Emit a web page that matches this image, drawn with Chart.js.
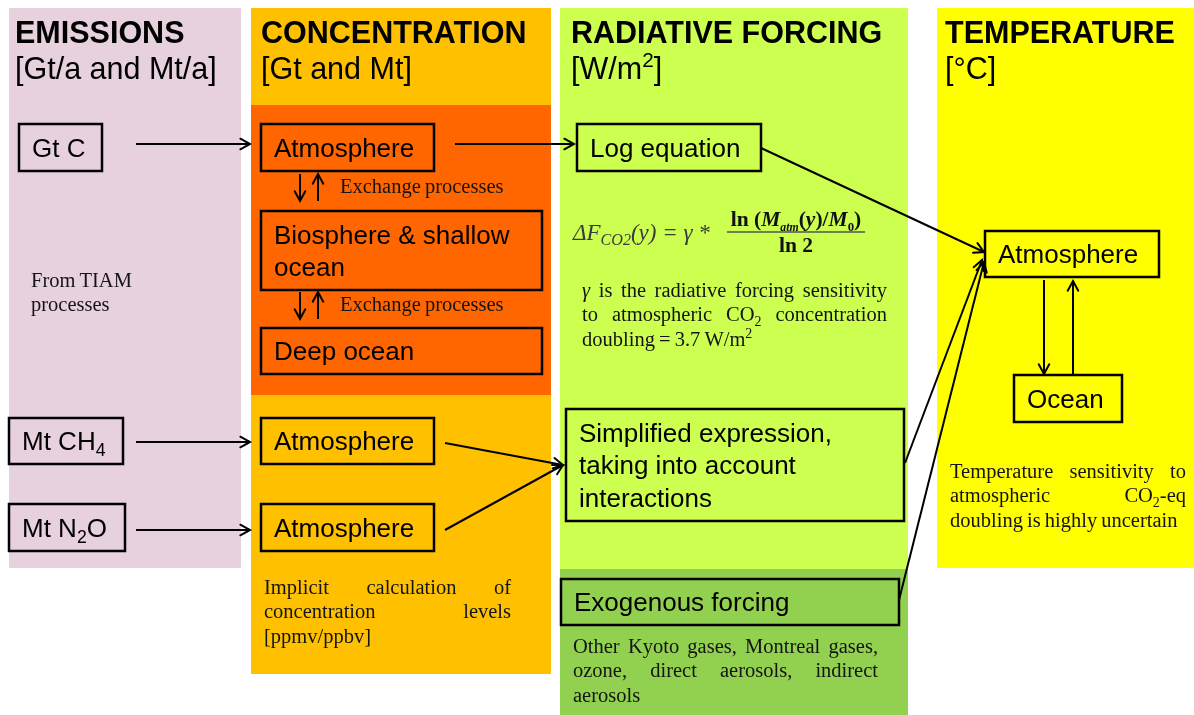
<!DOCTYPE html>
<html>
<head>
<meta charset="utf-8">
<script src="https://cdn.jsdelivr.net/npm/chart.js@4"></script>
<style>html,body{margin:0;padding:0;background:#fff}canvas{display:block}</style>
</head>
<body>
<canvas id="c" width="1194" height="715"></canvas>
<script>
// Diagram content, in chart units (x 0..1194, y 0..715 top-down)
// background panels: [left, top, right, bottom, colour]
const panels = [
    [9, 8, 241, 568, '#e8d1df'],
    [251, 8, 551, 674, '#ffc000'],
    [251, 105, 551, 395, '#ff6600'],
    [560, 8, 908, 569, '#ccff4f'],
    [560, 569, 908, 715, '#92d050'],
    [937, 8, 1194, 568, '#ffff00']
];
// column titles: [title, unit, x]
const headers = [
    ['EMISSIONS', '[Gt/a and Mt/a]', 15],
    ['CONCENTRATION', '[Gt and Mt]', 261],
    ['RADIATIVE FORCING', '[W/m^{2}]', 571],
    ['TEMPERATURE', '[°C]', 945]
];
// boxes: [left, top, right, bottom, text lines]
const boxes = [
    [19, 124, 102, 171, ['Gt C']],
    [9, 418, 123, 464, ['Mt CH_{4}']],
    [9, 504, 125, 551, ['Mt N_{2}O']],
    [261, 124, 434, 171, ['Atmosphere']],
    [261, 211, 542, 290, ['Biosphere & shallow', 'ocean']],
    [261, 328, 542, 374, ['Deep ocean']],
    [261, 418, 434, 464, ['Atmosphere']],
    [261, 504, 434, 551, ['Atmosphere']],
    [577, 124, 761, 171, ['Log equation']],
    [566, 409, 904, 521, ['Simplified expression,', 'taking into account', 'interactions']],
    [561, 579, 899, 625, ['Exogenous forcing']],
    [985, 231, 1159, 277, ['Atmosphere']],
    [1014, 375, 1122, 422, ['Ocean']]
];
// arrows: [x from, y from, x to, y to]
const arrows = [
    [136, 144, 250, 144],
    [455, 144, 574, 144],
    [761, 148, 984, 252],
    [136, 442, 250, 442],
    [136, 530, 250, 530],
    [445, 443, 563, 465],
    [445, 530, 563, 465],
    [905, 463, 982, 260],
    [899, 600, 984, 262],
    [1044, 280, 1044, 374],
    [1073, 375, 1073, 281],
    [300, 174, 300, 201],
    [318, 201, 318, 174],
    [300, 292, 300, 319],
    [318, 319, 318, 292]
];
// notes: [left, right, first baseline, lines, justify]
const notes = [
    [340, 504, 193, ['Exchange processes'], false],
    [340, 504, 311, ['Exchange processes'], false],
    [31, 200, 287, ['From TIAM', 'processes'], false],
    [582, 887, 297, ['*γ* is the radiative forcing sensitivity', 'to atmospheric CO_{2} concentration', 'doubling = 3.7 W/m^{2}'], true],
    [264, 511, 594, ['Implicit calculation of', 'concentration levels', '[ppmv/ppbv]'], true],
    [950, 1186, 478, ['Temperature sensitivity to', 'atmospheric CO_{2}-eq', 'doubling is highly uncertain'], true],
    [573, 878, 653, ['Other Kyoto gases, Montreal gases,', 'ozone, direct aerosols, indirect', 'aerosols'], true]
];

const SANS = '"Liberation Sans", Arial, sans-serif';
const SERIF = '"Liberation Serif", "Times New Roman", serif';

// turn "a_{b}c^{d}*e*" into segments
const parseRich = (str) => {
    const segs = [];
    let i = 0, italic = false, buf = '';
    const push = (t, s) => { if (t) segs.push({ t, f: italic ? 'italic' : '', s }); };
    while (i < str.length) {
        const c = str[i];
        if ((c === '_' || c === '^') && str[i + 1] === '{') {
            push(buf); buf = '';
            const end = str.indexOf('}', i);
            push(str.slice(i + 2, end), c === '_' ? 'sub' : 'sup');
            i = end + 1;
        } else if (c === '*') {
            push(buf); buf = '';
            italic = !italic;
            i++;
        } else {
            buf += c;
            i++;
        }
    }
    push(buf);
    return segs;
};

const segFont = (seg, size, family) => {
    const sz = seg.s ? size * (seg.k || 0.68) : size;
    return `${seg.f || ''} ${sz}px ${family}`.trim();
};

const measureSegs = (ctx, segs, size, family) => {
    let w = 0;
    segs.forEach(seg => { ctx.font = segFont(seg, size, family); w += ctx.measureText(seg.t).width; });
    return w;
};

const drawSegs = (ctx, segs, x, y, size, family) => {
    segs.forEach(seg => {
        ctx.font = segFont(seg, size, family);
        const dy = seg.s === 'sub' ? size * 0.22 : seg.s === 'sup' ? -size * 0.38 : 0;
        if (seg.c) ctx.fillStyle = seg.c;
        ctx.fillText(seg.t, x, y + dy);
        x += ctx.measureText(seg.t).width;
    });
    return x;
};

const diagramPlugin = {
    id: 'diagram',
    beforeDatasetsDraw(chart) {
        const ctx = chart.ctx;
        const X = v => chart.scales.x.getPixelForValue(v);
        const Y = v => chart.scales.y.getPixelForValue(v);
        ctx.save();
        ctx.textBaseline = 'alphabetic';

        panels.forEach(([x0, y0, x1, y1, col]) => {
            ctx.fillStyle = col;
            ctx.fillRect(X(x0), Y(y0), X(x1) - X(x0), Y(y1) - Y(y0));
        });

        ctx.fillStyle = '#000';
        headers.forEach(([title, unit, x]) => {
            ctx.font = `bold 30.5px ${SANS}`;
            ctx.fillText(title, X(x), Y(43));
            drawSegs(ctx, parseRich(unit), X(x), Y(79), 30.5, SANS);
        });

        ctx.strokeStyle = '#000';
        ctx.lineWidth = 2.5;
        boxes.forEach(([x0, y0, x1, y1, lines]) => {
            ctx.strokeRect(X(x0), Y(y0), X(x1) - X(x0), Y(y1) - Y(y0));
            const lh = 32.5;
            const mid = (Y(y0) + Y(y1)) / 2;
            lines.forEach((ln, k) => {
                const cy = mid + (k - (lines.length - 1) / 2) * lh;
                ctx.fillStyle = '#000';
                drawSegs(ctx, parseRich(ln), X(x0) + 13, cy + 9.3, 26, SANS);
            });
        });

        // justified notes in serif
        ctx.fillStyle = '#141414';
        const NS = 20.5;
        notes.forEach(([x0, x1, y, lines, justify]) => {
            lines.forEach((ln, k) => {
                const by = Y(y) + k * 24.3;
                const words = ln.split(' ').map(parseRich);
                const widths = words.map(w => measureSegs(ctx, w, NS, SERIF));
                const total = widths.reduce((a, b) => a + b, 0);
                const last = k === lines.length - 1;
                ctx.font = `${NS}px ${SERIF}`;
                let gap = ctx.measureText(' ').width * 0.8;
                if (justify && !last && words.length > 1) gap = (X(x1) - X(x0) - total) / (words.length - 1);
                let x = X(x0);
                words.forEach((w, i) => {
                    drawSegs(ctx, w, x, by, NS, SERIF);
                    x += widths[i] + gap;
                });
            });
        });

        // forcing formula
        ctx.fillStyle = '#3a3a3a';
        drawSegs(ctx, [
            { t: 'ΔF', f: 'italic' }, { t: 'CO2', f: 'italic', s: 'sub', k: 0.7 }, { t: '(y) = γ *', f: 'italic' }
        ], X(573), Y(240), 23, SERIF);
        const num = [
            { t: 'ln (', f: 'bold', c: '#111' }, { t: 'M', f: 'bold italic' }, { t: 'atm', f: 'bold italic', s: 'sub', k: 0.55 },
            { t: '(', f: 'bold' }, { t: 'y', f: 'bold italic' }, { t: ')/', f: 'bold' },
            { t: 'M', f: 'bold italic' }, { t: '0', f: 'bold', s: 'sub', k: 0.6 }, { t: ')', f: 'bold' }
        ];
        const cx = X(796);
        const nw = measureSegs(ctx, num, 21.5, SERIF);
        drawSegs(ctx, num, cx - nw / 2, Y(226), 21.5, SERIF);
        const den = [{ t: 'ln 2', f: 'bold' }];
        const dw = measureSegs(ctx, den, 21.5, SERIF);
        drawSegs(ctx, den, cx - dw / 2, Y(252), 21.5, SERIF);
        ctx.strokeStyle = '#555';
        ctx.lineWidth = 1.3;
        ctx.beginPath();
        ctx.moveTo(X(727), Y(232));
        ctx.lineTo(X(865), Y(232));
        ctx.stroke();

        ctx.restore();
    },
    afterDatasetsDraw(chart) {
        const ctx = chart.ctx;
        ctx.save();
        ctx.strokeStyle = '#000';
        ctx.lineWidth = 2;
        ctx.lineCap = 'round';
        chart.data.datasets.forEach((ds, i) => {
            const pts = chart.getDatasetMeta(i).data;
            const a = pts[0], b = pts[1];
            const ang = Math.atan2(b.y - a.y, b.x - a.x);
            const len = 11;
            ctx.beginPath();
            ctx.moveTo(b.x - len * Math.cos(ang - 0.5), b.y - len * Math.sin(ang - 0.5));
            ctx.lineTo(b.x, b.y);
            ctx.lineTo(b.x - len * Math.cos(ang + 0.5), b.y - len * Math.sin(ang + 0.5));
            ctx.stroke();
        });
        ctx.restore();
    }
};

new Chart(document.getElementById('c').getContext('2d'), {
    type: 'scatter',
    data: {
        datasets: arrows.map(a => ({
            data: [{ x: a[0], y: a[1] }, { x: a[2], y: a[3] }],
            showLine: true,
            borderColor: '#000',
            borderWidth: 2,
            pointRadius: 0,
            clip: false
        }))
    },
    options: {
        responsive: false,
        animation: false,
        layout: { padding: 0 },
        plugins: { legend: { display: false }, tooltip: { enabled: false } },
        scales: {
            x: { type: 'linear', min: 0, max: 1194, display: false },
            y: { type: 'linear', min: 0, max: 715, reverse: true, display: false }
        }
    },
    plugins: [diagramPlugin]
});
</script>
</body>
</html>
